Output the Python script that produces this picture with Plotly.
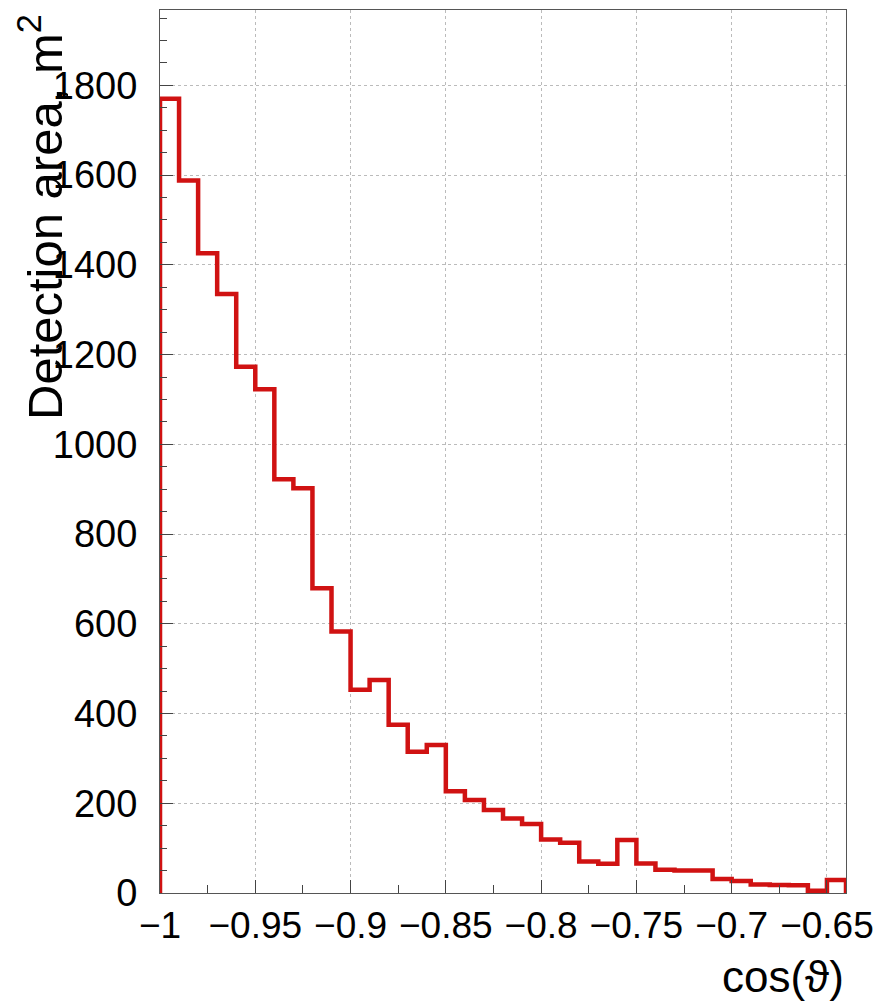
import numpy as np
import plotly.graph_objects as go

# Histogram data (bin width 0.01 starting at cos = -1)
x_start = -1.0
bin_width = 0.01
area = [1770, 1588, 1426, 1335, 1173, 1123, 922, 902, 679, 583,
        453, 475, 375, 315, 330, 227, 207, 185, 166, 154,
        119, 112, 70, 65, 118, 66, 52, 50, 50, 31,
        27, 19, 18, 17, 5, 29]

x_ticks = [-1, -0.95, -0.9, -0.85, -0.8, -0.75, -0.7, -0.65]
x_tick_labels = ["\u22121", "\u22120.95", "\u22120.9", "\u22120.85", "\u22120.8",
                 "\u22120.75", "\u22120.7", "\u22120.65"]
y_ticks = [0, 200, 400, 600, 800, 1000, 1200, 1400, 1600, 1800]

n = len(area)
edges = [x_start + i * bin_width for i in range(n + 1)]
xs = [edges[0]] + edges[:-1] + [edges[-1], edges[-1]]
ys = [0] + area + [area[-1], 0]

fig = go.Figure()
fig.add_trace(go.Scatter(x=xs, y=ys, mode="lines",
                         line=dict(color="#d01212", width=4.5, shape="hv"),
                         showlegend=False, hoverinfo="skip"))

font_family = "Liberation Sans, Arial, sans-serif"
fig.update_layout(
    width=893, height=1003,
    margin=dict(l=160, r=47, t=10, b=110),
    paper_bgcolor="white", plot_bgcolor="white",
    font=dict(family=font_family, color="black"),
)
fig.update_xaxes(
    range=[edges[0], edges[-1]],
    tickmode="array", tickvals=x_ticks, ticktext=x_tick_labels,
    tickfont=dict(size=37, family=font_family),
    ticks="inside", ticklen=13, tickcolor="#444", tickwidth=1,
    minor=dict(dtick=0.025, tick0=-1, ticks="inside", ticklen=8, tickcolor="#444", showgrid=False),
    showgrid=True, gridcolor="#bbbbbb", griddash="dot", gridwidth=1,
    showline=True, linecolor="#555", linewidth=1, mirror=True,
    zeroline=False, ticklabelstandoff=0,
)
fig.update_yaxes(
    range=[0, 1968],
    tickmode="array", tickvals=y_ticks,
    tickfont=dict(size=38, family=font_family),
    ticks="inside", ticklen=13, tickcolor="#444", tickwidth=1,
    minor=dict(dtick=50, tick0=0, ticks="inside", ticklen=7, tickcolor="#444", showgrid=False),
    showgrid=True, gridcolor="#bbbbbb", griddash="dot", gridwidth=1,
    showline=True, linecolor="#555", linewidth=1, mirror=True,
    zeroline=False, ticklabelstandoff=14,
)
fig.add_annotation(text="Detection area, m<sup>2</sup>", textangle=-90,
                   xref="paper", yref="paper", x=0, y=1.0, xshift=-152, yshift=-2,
                   xanchor="left", yanchor="top", showarrow=False,
                   font=dict(size=49, family=font_family, color="black"))
fig.add_annotation(text="cos(\u03d1)", xref="paper", yref="paper", x=1.0, y=0,
                   xanchor="right", yanchor="top", yshift=-57, showarrow=False,
                   font=dict(size=44, family=font_family, color="black"))

fig.write_html("out.html")
